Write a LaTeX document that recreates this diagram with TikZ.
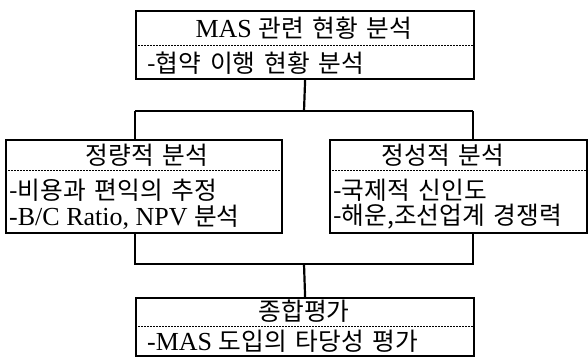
\documentclass[tikz,border=0pt]{standalone}
\usepackage{fontspec}
\setmainfont{Liberation Serif}
\newfontfamily\kr{Noto Sans CJK KR}[Scale=0.95,WordSpace=1.6]
\begin{document}
\begin{tikzpicture}[x=1pt,y=-1pt,
  frame/.style={line width=2.2pt},
  sep/.style={line width=0.7pt,dash pattern=on 2pt off 1pt},
  title/.style={anchor=center,inner sep=0pt,font=\fontsize{26}{30}\selectfont},
  item/.style={anchor=west,inner sep=0pt,font=\fontsize{26}{30}\selectfont}]
\useasboundingbox (0,0) rectangle (588,359);
% top box
\node[draw,frame,minimum width=338pt,minimum height=68pt,anchor=north west,inner sep=0pt] (top) at (135,10) {};
\draw[sep] (135,45) -- (473,45);
\node[title] (toptitle) at (304,28) {MAS {\kr 관련 현황 분석}};
\node[item] (topitem) at (147,63) {{\kr -협약 이행 현황 분석}};
% frame
\coordinate (ftl) at (135,111);
\coordinate (ftr) at (473,111);
\coordinate (fbl) at (135,264);
\coordinate (fbr) at (473,264);
\draw[frame] (top.south) -- (304,111);
\draw[frame] (ftl) -- (ftr);
% left box
\node[draw,frame,fill=white,minimum width=276pt,minimum height=93pt,anchor=north west,inner sep=0pt] (left) at (5,139) {};
\draw[sep] (5,170) -- (281,170);
\node[title] (lt) at (147,155) {{\kr 정량적 분석}};
\node[item] (l1) at (9,190) {{\kr -비용과 편익의 추정}};
\node[item] (l2) at (9,217) {-B/C Ratio, NPV {\kr 분석}};
% right box
\node[draw,frame,fill=white,minimum width=257pt,minimum height=93pt,anchor=north west,inner sep=0pt] (right) at (329,139) {};
\draw[sep] (329,170) -- (586,170);
\node[title] (rt) at (443,155) {{\kr 정성적 분석}};
\node[item] (r1) at (333,190) {{\kr -국제적 신인도}};
\node[item] (r2) at (333,217) {{\kr -해운,조선업계 경쟁력}};
\draw[frame] (ftl) -- (left.north -| ftl);
\draw[frame] (ftr) -- (right.north -| ftr);
\draw[frame] (left.south -| fbl) -- (fbl) -- (fbr) -- (right.south -| fbr);
% bottom box
\node[draw,frame,minimum width=338pt,minimum height=58pt,anchor=north west,inner sep=0pt] (bot) at (135,297) {};
\draw[sep] (135,326) -- (473,326);
\node[title] (bt) at (304,311) {{\kr 종합평가}};
\node[item] (b1) at (147,341) {-MAS {\kr 도입의 타당성 평가}};
\draw[frame] (304,264) -- (bot.north);
\end{tikzpicture}
\end{document}
